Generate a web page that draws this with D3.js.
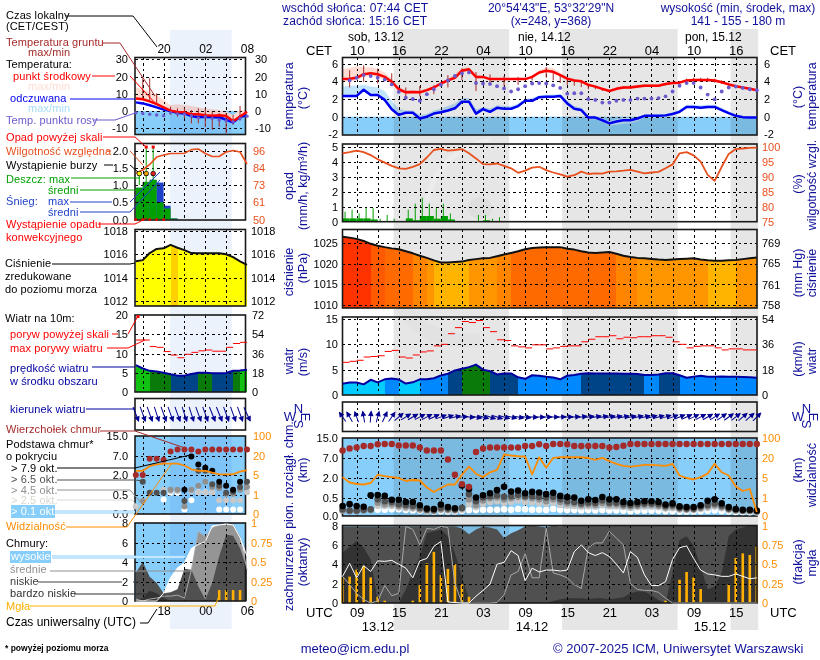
<!DOCTYPE html>
<html>
<head>
<meta charset="utf-8">
<script src="https://cdn.jsdelivr.net/npm/d3@7"></script>
<style>
    html, body { margin: 0; padding: 0; background: #fff; }
    svg { display: block; }
    text { font-family: "Liberation Sans", Arial, sans-serif; }
</style>
</head>
<body>
<svg id="chart" width="820" height="660"></svg>
<script>
// hour numbers count from 00 UTC on 13.12
// main forecast: hourly values from t=7 to t=66
const tempMid = [4.25, 4.3, 4.4, 4.8, 4.9, 4.8, 4.5, 3.95, 3.1, 2.75, 2.8, 2.75, 3.0, 3.3, 3.75, 4.1, 4.4, 5.2, 5.35, 4.5, 4.5, 4.25, 4.25, 4.25, 4.25, 4.25, 4.25, 4.5, 5.0, 5.2, 5.07, 4.7, 4.3, 4.1, 4.0, 3.6, 3.4, 3.15, 2.9, 3.15, 3.3, 3.3, 3.4, 3.5, 3.5, 3.5, 3.7, 3.8, 3.85, 4.1, 4.15, 4.15, 4.15, 4.1, 3.9, 3.65, 3.45, 3.3, 3.15, 3.0];
const tempMax = [5.4, 5.5, 5.7, 5.6, 5.6, 5.4, 5.0, 4.3, 3.4, 3.0, 3.0, 2.95, 3.2, 3.5, 3.9, 4.3, 4.8, 5.5, 5.6, 4.7, 4.6, 4.35, 4.35, 4.35, 4.35, 4.35, 4.35, 4.6, 5.2, 5.6, 5.5, 5.0, 4.5, 4.3, 4.15, 3.8, 3.55, 3.3, 3.05, 3.35, 3.5, 3.55, 3.6, 3.7, 3.7, 3.7, 3.85, 3.95, 4.0, 4.2, 4.3, 4.3, 4.3, 4.25, 4.05, 3.8, 3.6, 3.4, 3.25, 3.1];
const tempMin = [3.95, 4.0, 4.1, 4.5, 4.6, 4.5, 4.2, 3.7, 2.9, 2.6, 2.65, 2.6, 2.85, 3.15, 3.6, 3.95, 4.25, 5.0, 5.15, 4.35, 4.35, 4.15, 4.15, 4.15, 4.15, 4.15, 4.15, 4.35, 4.8, 5.0, 4.9, 4.5, 4.15, 3.95, 3.85, 3.45, 3.25, 3.0, 2.8, 3.0, 3.15, 3.15, 3.25, 3.35, 3.35, 3.35, 3.55, 3.65, 3.7, 3.95, 4.0, 4.0, 4.0, 3.95, 3.75, 3.5, 3.3, 3.15, 3.05, 2.9];
const feltMid = [2.33, 2.33, 2.35, 3.05, 2.45, 2.45, 1.9, 0.85, 0.2, 0.45, 0.45, -0.2, 0.0, 0.35, 0.5, 0.7, 0.95, 1.7, 1.7, 0.35, 0.85, 0.55, 1.0, 0.9, 0.9, 1.2, 1.8, 1.8, 2.2, 2.25, 2.25, 2.35, 1.5, 0.9, 0.75, -0.1, -0.1, -0.4, -0.75, -0.55, -0.4, -0.4, -0.2, 0.1, 0.1, 0.1, 0.15, 0.3, 0.55, 1.1, 1.1, 1.0, 1.1, 1.1, 0.75, 0.4, 0.1, -0.05, -0.1, -0.1];
const feltMax = [3.4, 3.5, 3.5, 3.6, 3.4, 3.3, 2.9, 1.8, 0.9, 0.7, 0.7, 0.2, 0.3, 0.7, 0.9, 1.2, 1.5, 2.1, 2.1, 0.8, 1.1, 0.9, 1.3, 1.2, 1.2, 1.5, 2.0, 2.1, 2.4, 2.5, 2.5, 2.55, 1.8, 1.2, 1.0, 0.1, 0.1, -0.15, -0.55, -0.3, -0.15, -0.15, 0.0, 0.2, 0.25, 0.25, 0.3, 0.5, 0.8, 1.35, 1.35, 1.3, 1.35, 1.35, 1.0, 0.6, 0.25, 0.1, 0.0, 0.0];
const feltMin = [2.2, 2.2, 2.2, 2.9, 2.3, 2.3, 1.75, 0.7, 0.1, 0.3, 0.3, -0.3, -0.15, 0.2, 0.35, 0.55, 0.8, 1.55, 1.55, 0.2, 0.65, 0.4, 0.85, 0.75, 0.75, 1.05, 1.65, 1.65, 2.05, 2.1, 2.1, 2.2, 1.35, 0.75, 0.6, -0.3, -0.3, -0.6, -1.0, -0.9, -0.8, -0.75, -0.5, -0.1, -0.15, -0.15, -0.05, 0.15, 0.4, 0.95, 0.95, 0.85, 0.95, 0.95, 0.6, 0.25, -0.05, -0.15, -0.2, -0.2];
const dewPoint = [null, 4.1, 4.4, 4.7, 4.6, 4.4, 4.2, 3.65, 2.8, 2.15, 2.0, 1.8, 2.55, 3.1, 3.6, 4.1, 4.6, 4.9, 5.0, 3.8, 3.75, 3.7, 3.45, 3.2, 2.85, 3.1, 3.45, 3.75, 3.8, 3.75, 3.55, 3.25, 2.6, 2.65, 2.65, 2.0, 1.9, 1.6, 1.6, 1.8, 1.9, 1.9, 2.05, 2.05, 2.05, 2.1, 2.3, 2.85, 3.5, 3.8, 3.8, 3.3, 2.5, 1.95, 2.85, 3.3, 3.4, 3.25, 3.1, 3.0];
const groundHours = [8, 10, 12, 14, 16, 18, 20, 22, 24, 26, 28, 30, 32, 34, 36, 37, 38, 39, 40, 41, 42, 43, 44, 45, 46, 47, 48, 49, 50, 51, 52, 53, 54, 55, 56, 57, 58, 59, 60, 61, 62, 63, 64, 65, 66];
const groundMax = [5.25, 5.8, 5.45, 4.9, 3.3, 3.45, 3.55, 4.7, 5.45, 5.05, 4.8, 4.6, 4.5, 4.6, 5.6, 5.1, 4.8, 4.4, 4.2, 4.05, 3.65, 3.45, 3.2, 3.0, 3.2, 3.4, 3.4, 3.5, 3.6, 3.6, 3.6, 3.8, 3.9, 4.0, 4.3, 4.4, 4.4, 4.4, 4.3, 4.1, 3.85, 3.6, 3.4, 3.25, 3.1];
const groundMin = [3.3, 3.95, 3.75, 3.55, 2.25, 2.3, 2.55, 3.3, 4.15, 2.9, 3.6, 3.5, 3.6, 4.1, 4.4, 4.1, 3.8, 3.6, 3.5, 3.35, 3.1, 3.1, 2.9, 2.75, 3.0, 3.15, 3.2, 3.3, 3.4, 3.4, 3.4, 3.55, 3.7, 3.75, 3.9, 3.95, 3.95, 3.95, 3.85, 3.7, 3.45, 3.25, 3.1, 3.0, 2.85];

const humidity = [97.8, 98.2, 98.7, 98.2, 97.2, 95.8, 94.7, 93.6, 92.8, 92.6, 93.3, 94.2, 96.4, 98.9, 99.3, 98.7, 98.9, 99.2, 97.8, 96.1, 94.2, 94.1, 94.4, 93.6, 92.8, 91.3, 92, 93, 93.3, 92.2, 91.4, 90.8, 90, 90.5, 91.7, 90.9, 91.1, 91, 91.7, 91.8, 92, 92.3, 91.7, 91.1, 91.4, 91.6, 92.8, 94.1, 97.8, 98.2, 97.1, 95, 90.6, 88.6, 93.3, 97.6, 99.2, 99.4, 99.6, 99.7];
// rain per hour from t=7, bars span one hour
const rainMean = [0.22, 0.22, 0.22, 0.22, 0.15, 0, 0, 0, 0, 0.22, 0.1, 0.38, 0.38, 0.2, 0.38, 0.15, 0, 0, 0, 0, 0.1, 0, 0, 0];
const rainMax = [0.67, 0.8, 0.55, 0.95, 0.9, 0.2, 0.45, 0.2, 0, 0.8, 1.2, 1.6, 1.2, 0.9, 1.2, 0.55, 0, 0, 0, 0.45, 0.45, 0.2, 0.3, 0];

const pressure = [1026.5, 1026.3, 1026, 1025.5, 1024.8, 1024.35, 1024, 1023.7, 1023.5, 1023, 1022.5, 1021.9, 1021.4, 1020.8, 1020.3, 1020.3, 1020.4, 1020.5, 1020.9, 1021.1, 1021.3, 1021.4, 1021.8, 1022.2, 1022.6, 1023, 1023.5, 1023.8, 1023.9, 1024, 1024, 1024, 1023.6, 1023.4, 1023, 1022.7, 1022.6, 1022.7, 1022.8, 1022.4, 1021.9, 1021.6, 1021.4, 1021.3, 1021.15, 1021, 1020.9, 1021, 1021.1, 1021.2, 1021.3, 1021, 1020.8, 1020.7, 1020.7, 1020.8, 1020.9, 1021.1, 1021.3, 1021.5];

const windSpeed = [2.2, 2.45, 2.45, 2.1, 3.0, 2.5, 3.1, 3.25, 3.05, 2.25, 2.5, 3.1, 3.1, 3.3, 3.85, 4.2, 4.85, 5.2, 5.5, 6.0, 5.0, 4.7, 4.05, 4.25, 4.25, 3.5, 3.2, 3.9, 3.8, 3.6, 3.45, 3.1, 3.8, 3.95, 4.2, 4.3, 4.25, 4.25, 4.25, 4.25, 4.2, 4.2, 4.15, 3.95, 3.95, 4.05, 4.3, 4.3, 3.9, 3.4, 3.6, 3.8, 3.6, 3.6, 3.65, 3.6, 3.6, 3.55, 3.5, 3.4];
const windGust = [6.45, 6.65, 6.85, 7.5, 7.6, 7.75, 8.6, 8.8, 7.5, 7.3, 7.9, 8.5, 8.7, 9.7, 10, 12.1, 13.3, 14.5, 14.3, 14.7, 13.3, 12.5, 10.9, 10.75, 9.7, 9.5, 9.3, 9.9, 9.9, 9.1, 9.3, 9.6, 9.7, 9.7, 10.5, 11, 11.5, 11.5, 11.7, 11.1, 11.4, 11.3, 11.5, 11.5, 11.7, 11.7, 11.4, 10.5, 10, 9.3, 9.6, 9.7, 9.7, 9.3, 8.9, 9.1, 9.1, 8.9, 8.9];
const windDir = [-35, -30, -20, -10, 5, 15, 25, 35, 50, 58, 60, 62, 62, 65, 70, 72, 78, 85, 95, 100, 105, 108, 108, 105, 103, 100, 98, 95, 92, 90, 90, 88, 88, 85, 82, 82, 80, 80, 80, 78, 78, 78, 76, 76, 75, 75, 73, 70, 68, 66, 64, 62, 60, 58, 56, 54, 52, 50, 48, 45];

const cloudTop = [10, 10.8, 11.2, 11.8, 11.8, 12.5, 12.6, 12.6, 12, 12, 12, 11.2, 10, 10, 10, 6.6, 2.7, 1.5, 1.3, 9.4, 10.8, 11.2, 11.2, 11.2, 11.2, 11.2, 11.8, 11.8, 12.5, 11.8, 12.6, 12.6, 12.5, 11.8, 11.8, 11.8, 11.8, 11.8, 11.2, 11.4, 11.9, 12.6, 12.6, 12.6, 12.6, 12.6, 12.6, 12.6, 12.6, 12.6, 12.6, 12.6, 12.6, 12.6, 12.6, 12.6, 12.6, 12.6, 12.6, 12.6];
const base79 = [0.27, 0.32, 0.27, 0.25, 0.67, 0.68, 0.62, 0.44, 0.44, 0.38, 0.38, 0.29, 0.2, 0.19, 0.31, 0.24, 0.21, 1.4, 1.13, 0.5, 0.67, 0.82, 1.05, 1.3, 0.95, 1.03, 0.82, 0.92, 0.87, 0.75, 0.85, 0.62, 0.53, 0.5, 0.41, 0.45, 0.43, 0.53, 0.45, 0.45, 0.38, 0.35, 0.38, 0.4, 0.4, 0.38, 0.31, 0.34, 0.26, 0.24, 0.24, 0.29, 0.41, 0.45, 0.34, 0.24, 0.19, 0.17, 0.17, 0.15];
const base65 = [0.18, 0.15, 0.15, 0.17, 0.18, 0.45, 0.4, 0.38, 0.32, 0.3, 0.28, 0.22, 0.17, 0.16, 0.22, 0.2, 0.18, 0.22, 0.75, 0.4, 0.5, 0.6, 0.65, 0.55, 0.6, 0.7, 0.6, 0.6, 0.55, 0.5, 0.55, 0.45, 0.4, 0.38, 0.34, 0.36, 0.35, 0.42, 0.36, 0.36, 0.32, 0.3, 0.32, 0.34, 0.34, 0.32, 0.27, 0.29, 0.22, 0.2, 0.2, 0.25, 0.3, 0.34, 0.28, 0.2, 0.17, 0.15, 0.15, 0.13];
const base45 = [0.14, 0.13, 0.13, 0.15, 0.16, 0.36, 0.32, 0.32, 0.27, 0.25, 0.23, 0.18, 0.15, 0.14, 0.18, 0.17, 0.16, 0.2, 0.45, 0.3, 0.42, 0.48, 0.5, 0.45, 0.48, 0.55, 0.5, 0.48, 0.45, 0.4, 0.45, 0.38, 0.34, 0.33, 0.3, 0.31, 0.3, 0.35, 0.31, 0.31, 0.28, 0.26, 0.28, 0.3, 0.3, 0.28, 0.23, 0.25, 0.2, 0.18, 0.18, 0.22, 0.26, 0.29, 0.24, 0.18, 0.15, 0.14, 0.14, 0.12];
const base25 = [null, null, null, null, null, 0.28, 0.27, 0.27, 0.23, 0.21, 0.2, 0.16, 0.13, 0.13, 0.16, 0.15, 0.14, 0.17, 0.32, 0.24, 0.33, 0.38, 0.4, 0.36, 0.38, 0.42, 0.38, 0.37, 0.35, 0.33, 0.36, 0.3, 0.28, 0.27, 0.25, 0.26, 0.25, 0.29, 0.26, 0.26, 0.24, 0.22, 0.24, 0.25, 0.25, 0.24, 0.2, 0.21, 0.17, 0.16, 0.16, 0.19, 0.22, 0.25, 0.21, 0.16, 0.14, 0.13, 0.12, 0.11];
const base01 = [null, null, null, null, null, 0.17, 0.17, 0.18, 0.18, 0.16, 0.15, 0.14, 0.13, 0.12, 0.13, 0.12, 0.12, 0.14, 0.16, 0.16, 0.17, 0.17, 0.17, 0.18, 0.17, 0.19, 0.18, 0.17, 0.17, 0.16, 0.19, 0.17, 0.16, 0.16, 0.15, 0.16, 0.15, 0.16, 0.15, 0.15, 0.14, 0.13, 0.14, 0.14, 0.14, 0.14, 0.13, 0.13, 0.12, 0.12, 0.12, 0.13, 0.14, 0.15, 0.13, 0.12, 0.11, 0.11, 0.1, 0.1];
const visibility = [5.3, 4, 3.7, 3.6, 3.9, 7.1, 6, 5.3, 4.9, 4.3, 4.5, 4.4, 3, 2.1, 2.9, 3.6, 3.6, 7.1, 13.4, 7.9, 5.3, 9, 10.9, 34, 30, 27, 26, 7.3, 23, 12.5, 20.8, 23, 23, 23, 23, 20, 18.5, 20.5, 17.6, 15.5, 14, 13.4, 14, 14.7, 14.7, 14.4, 14, 15.5, 6.5, 4.9, 4.6, 5.3, 8, 15.5, 9, 6.5, 3.2, 2.3, 2.7, 0.22];

const cloudLow = [7.9, 7.9, 7.9, 7.9, 7.9, 7.9, 7.9, 7.9, 7.9, 7.9, 7.9, 7.9, 7.9, 7.9, 7.9, 7.9, 7.9, 7.7, 7.1, 7.6, 7.9, 7.8, 7.6, 6.7, 7.2, 7.5, 7.9, 8, 7.9, 7.8, 8, 7.9, 8, 8, 8, 8, 8, 8, 8, 8, 8, 8, 8, 8, 8, 8, 8, 8, 8, 8, 8, 8, 8, 8, 8, 8, 8, 8, 8, 8];
const cloudVeryLow = [5.2, 5.8, 6.4, 5.7, 4.5, 0.2, 0, 0, 0, 1.4, 3.1, 4.8, 7.2, 7.4, 7.6, 6.9, 5.2, 2.7, 0.3, 0, 0, 0, 0, 0, 0, 0, 0, 0, 0, 0, 0.2, 0.4, 0.5, 0.5, 0.5, 0.4, 0.5, 0.5, 0.4, 0.5, 0.6, 1.0, 1.2, 1.2, 0.8, 0.3, 0, 3.1, 6.5, 6.9, 5.9, 3.8, 1.4, 1.7, 3.1, 6.9, 7.6, 7.8, 8, 8];
const cloudMid = [2.75, 1.9, 1.0, 0.35, 0, 0.2, 1.8, 0.75, 1.0, 7.9, 7.6, 6.0, 7.7, 7.6, 7.9, 7.8, 2.0, 0, 0, 0, 0, 0, 0.05, 0.85, 2.9, 3.25, 5.1, 2.6, 2.6, 7.7, 3.1, 2.9, 2.6, 1.9, 1.5, 5.7, 6.2, 6.2, 7.4, 6.7, 6.0, 2.0, 1.4, 1.3, 1.3, 1.1, 0.5, 0, 0, 0, 0, 0, 0, 0, 0, 0, 0, 0, 0, 0];
const cloudHigh = [2.75, 4.1, 2.6, 3.85, 3.25, 4.35, 4.3, 4.4, 4.0, 3.6, 2.6, 4.35, 4.6, 5.85, 6.35, 0.1, 0.05, 0, 0, 0.7, 1.3, 1.95, 4.0, 4.2, 5.4, 4.9, 2.3, 3.6, 3.2, 3.4, 3.4, 3.3, 3.4, 5.3, 6.0, 5.2, 4.9, 5.2, 4.8, 4.0, 3.1, 5.3, 4.7, 2.9, 1.8, 1.8, 2.2, 4.5, 5.7, 5.9, 4.6, 3.4, 3.0, 2.9, 2.75, 2.75, 3.0, 2.75, 2.5, 2.6];
const fog = [0.33, 0.34, 0.43, 0.48, 0.33, 0.08, 0.03, 0, 0, 0, 0.03, 0.23, 0.51, 0.66, 0.36, 0.44, 0.5, 0.24, 0.08, 0, 0, 0, 0, 0, 0, 0, 0, 0, 0, 0, 0, 0, 0, 0, 0, 0, 0, 0, 0, 0, 0, 0, 0, 0, 0, 0, 0.03, 0, 0.3, 0.4, 0.33, 0.18, 0, 0, 0, 0.24, 0.58, 0.64, 0.62, 0.73];

// short panel on the left: hourly values from t=14 to t=30
const miniTemp = [7.2, 6.8, 5.6, 4, 2.1, 0.2, -0.6, -0.8, -1.9, -1.9, -2.5, -2.7, -2.5, -2.9, -6, -3.3, -0.4];
const miniTempMax = [13.7, 12.6, 11.2, 9.3, 6.4, 3.5, 3.9, 3.5, 2.9, 2.1, 1.5, 1, 0.6, -0.4, -2.3, 0.6, 0.6];
const miniFelt = [5, 4.4, 3.3, 2.1, 0.8, 0, -1, -1.4, -2.9, -3.7, -3.3, -3.7, -3.5, -5.2, -6.6, -3.3, -2.7];
const miniDew = [-1, -1.4, -1.9, -2.3, -2.7, -1, -1.7, -1.7, -2.7, -4, -3.3, -4.3, -5.2, -5.6, -6.2, -4.3, -3];
const miniGroundHours = [15, 16, 17, 19, 20, 21, 22, 23, 24, 25, 26, 27, 28, 29];
const miniGroundMax = [18.9, 19, 10.2, 2.5, 1.5, 1.5, 0.6, 1.5, 1.5, -0.4, -1.3, -1.3, -2.3, 2.9];
const miniGroundMin = [6.4, 6, 3.5, -2.3, -3.3, -4.3, -7.2, -7.2, -9.3, -11, -9.3, -13, -8.1, -5.6];
const miniHumidity = [81, 83, 86.7, 91.6, 93, 94, 94, 94.2, 96.6, 97, 94, 92, 92, 95, 96, 95, 87];
const miniRain = [0.92, 1.09, 1.15, 0.5, 0.32, 0.03];
const miniSnow = [0.92, 1.09, 1.15, 1.07, 0.4, 0.03];
const miniRainStems = [1.33, 2.1, 2.1];
const miniStormColors = ['#ffee00', '#f0a000', '#e02020'];
const miniPressure = [1015.4, 1015.5, 1016.1, 1016.45, 1016.5, 1016.8, 1016.55, 1016.35, 1016.1, 1016.08, 1016.08, 1016.08, 1016.08, 1016, 1015.75, 1015.4, 1015.1];
const miniWind = [7, 6.1, 5.5, 5.3, 5, 4.6, 4.25, 4.25, 4.7, 5, 5, 4.9, 4.9, 4.95, 5.5, 5.6, 5.8];
const miniGust = [13.5, 13.5, 11.8, 11.6, 10.5, 9.6, 8.9, 9.8, 10.3, 10.7, 10.9, 10.6, 10.6, 11.6, 12.6, 12.9];
const miniDir = [158, 160, 160, 162, 160, 160, 160, 162, 162, 160, 160, 158, 158, 160, 160, 160, 155];
const miniTop = [2, 2, 6.3, 6.3, 6, 8.8, 9.6, 9.6, 9.6, 8.8, 9.6, 9.6, 9.6, 9.6, 9.6, 9.6, 9.6];
const miniBase79 = [null, null, null, null, null, null, null, 0.89, 6.85, 4.75, 3.9, 3.1, 1.5, 1.2, 0.9, 1.5, null];
const miniBase65 = [null, 1.5, 0.67, 0.67, 0.67, null, null, 0.34, null, 3.1, 3.1, 1.3, 1.2, 0.67, 0.75, 1.1, 1.5];
const miniBase45 = [null, 0.34, null, null, null, 0.9, 0.9, 0.2, 0.9, 1.2, 1.5, 1.1, 1.0, 0.6, 0.6, 0.9, 1.1];
const miniBase25 = [0.2, null, null, null, 0.9, 0.8, 0.8, null, 0.8, 0.7, 0.7, 0.7, 0.36, 0.36, 0.36, 0.36, 0.7];
const miniBase01 = [null, 0.34, null, null, 0.38, 0.67, 0.67, 0.12, 0.36, 0.7, 0.7, 0.7, 0.12, 0.12, 0.12, 0.12, null];
const miniVis = [8.3, 8.3, 12, 13.4, 14, 14, 14, 12.5, 9.5, 8.3, 8.3, 6.8, 5.5, 5.5, 5.6, 7.6, 8.9];
const miniLow = [2.9, 4, 2.5, 1.85, 0.8, 0.9, 1.2, 3.3, 3.2, 1.5, 0.15, 1.85, 4.6, 6.8, 6.7, 5.4, 3.2];
const miniVeryLow = [0.1, 0.3, 1.05, 0.8, 0.3, 0, 0, 0, 0, 0, 0, 0, 0, 0, 0, 0, 0];
const miniMid = [0.2, 0, 0.2, 0.3, 0.5, 0.5, 0.6, 0.3, 3.2, 7.1, 6.6, 7.5, 7.8, 7.8, 7.8, 6.6, 3.2];
const miniHigh = [0, 0, 0, 0, 0.8, 2.4, 3.4, 3.9, 5.4, 5.8, 6.1, 7.7, 7.8, 7.9, 7.8, 6.5, 4.6];
const miniFogHours = [26, 27, 28, 29];
const miniFog = [0.14, 0.14, 0.14, 0.14];

const nightSpans = [[14.27, 30.73], [38.27, 54.73], [62.27, 66.2]];
const cetLabels = ['10', '16', '22', '04', '10', '16', '22', '04', '10', '16'];
const utcLabels = ['09', '15', '21', '03', '09', '15', '21', '03', '09', '15'];
const sixHourTicks = [9, 15, 21, 27, 33, 39, 45, 51, 57, 63];
const threeHourTicks = [9, 12, 15, 18, 21, 24, 27, 30, 33, 36, 39, 42, 45, 48, 51, 54, 57, 60, 63];
const miniTicks = [15, 18, 21, 24, 27];
const okta = [0, 2, 4, 6, 8];

const NAVY = '#10109a';
const ORANGE = '#ff8c00';
const ICE = '#87cefa';
const HUMID = '#e8501e';
const GAP = '#000090';
const LABEL = 11;

const hoursMain = d3.range(7, 67);
const hoursMini = d3.range(14, 31);
const svg = d3.select('#chart');
const layers = {};
['fill', 'band', 'solid', 'grid', 'marks', 'text'].forEach((k) => {
    layers[k] = svg.append('g').attr('class', k);
});
layers.band.style('mix-blend-mode', 'multiply');

const xMain = d3.scaleLinear().domain([7, 66]).range([342.6, 756.8]);
const xMini = d3.scaleLinear().domain([14, 30]).range([135.8, 247]);
const L = { x0: 342.5, x1: 757 };
const M = { x0: 135, x1: 245.5 };

function text(str, x, y, color, opt = {}) {
    return layers.text
        .append('text')
        .attr('x', x)
        .attr('y', y)
        .attr('dy', '.35em')
        .attr('fill', color)
        .attr('font-size', opt.size || 12)
        .attr('font-weight', opt.weight || null)
        .attr('letter-spacing', opt.spacing || null)
        .attr('text-anchor', opt.anchor || 'start')
        .text(str);
}

function rotated(str, x, y, color, size = 12.5) {
    layers.text
        .append('text')
        .attr('transform', `translate(${x},${y}) rotate(-90)`)
        .attr('dy', '.35em')
        .attr('text-anchor', 'middle')
        .attr('fill', color)
        .attr('font-size', size)
        .text(str);
}

function leftAxis(scale, x, values, fmt = String) {
    const g = layers.text
        .append('g')
        .attr('transform', `translate(${x},0)`)
        .call(d3.axisLeft(scale).tickValues(values).tickSize(0).tickPadding(0).tickFormat(fmt));
    g.select('.domain').remove();
    g.selectAll('text').attr('font-size', LABEL).attr('fill', '#000').attr('font-family', null);
}

function rightAxis(scale, x, values, color = '#000') {
    const g = layers.text
        .append('g')
        .attr('transform', `translate(${x},0)`)
        .call(d3.axisRight(scale).tickValues(values).tickSize(0).tickPadding(0).tickFormat(String));
    g.select('.domain').remove();
    g.selectAll('text').attr('font-size', LABEL).attr('fill', color).attr('font-family', null);
}

function timeAxis(scale, y, values, labels, size = 13) {
    const g = layers.text
        .append('g')
        .attr('transform', `translate(0,${y})`)
        .call(d3.axisTop(scale).tickValues(values).tickSize(0).tickPadding(0).tickFormat((d, i) => labels[i]));
    g.select('.domain').remove();
    g.selectAll('text').attr('font-size', size).attr('fill', '#000').attr('font-family', null);
}

// dashed grid and the frame of a panel
function grid(xs, xTicks, ys, yTicks, box) {
    const g = layers.grid.append('g').attr('fill', 'none').attr('stroke', '#000');
    g.selectAll('line.v')
        .data(xTicks)
        .join('line')
        .attr('class', 'v')
        .attr('x1', (d) => Math.round(xs(d)) + 0.5)
        .attr('x2', (d) => Math.round(xs(d)) + 0.5)
        .attr('y1', box.y0)
        .attr('y2', box.y1);
    g.selectAll('line.h')
        .data(yTicks)
        .join('line')
        .attr('class', 'h')
        .attr('x1', box.x0)
        .attr('x2', box.x1)
        .attr('y1', (d) => Math.round(ys(d)) + 0.5)
        .attr('y2', (d) => Math.round(ys(d)) + 0.5);
    g.selectAll('line').attr('stroke-dasharray', '2.5,3').attr('shape-rendering', 'crispEdges');
    g.append('rect')
        .attr('x', box.x0)
        .attr('y', box.y0)
        .attr('width', box.x1 - box.x0)
        .attr('height', box.y1 - box.y0)
        .attr('stroke', '#1a1a1a')
        .attr('stroke-width', 1.6);
}

function backdrop(box, y0, color) {
    layers.fill
        .append('rect')
        .attr('x', box.x0)
        .attr('y', y0)
        .attr('width', box.x1 - box.x0)
        .attr('height', box.y1 - y0)
        .attr('fill', color);
}

function line(xs, ys, hours, values, color, width) {
    const path = d3
        .line()
        .defined((d) => d !== null)
        .x((d, i) => xs(hours[i]))
        .y((d) => ys(d));
    layers.marks
        .append('path')
        .attr('d', path(values))
        .attr('fill', 'none')
        .attr('stroke', color)
        .attr('stroke-width', width)
        .attr('stroke-linejoin', 'round');
}

function band(xs, ys, hours, hi, lo, color, layer = layers.fill) {
    const area = d3
        .area()
        .x((d) => xs(hours[d]))
        .y0((d) => ys(lo[d]))
        .y1((d) => ys(hi[d]));
    layer
        .append('path')
        .attr('d', area(d3.range(hours.length)))
        .attr('fill', color);
}

// one filled column per hour under a line
function columns(xs, ys, hours, values, baseline, color) {
    const area = d3
        .area()
        .x((d) => xs(d.t))
        .y0(ys(baseline))
        .y1((d) => ys(d.v));
    d3.range(hours.length - 1).forEach((i) => {
        layers.solid
            .append('path')
            .attr('d', area([{ t: hours[i], v: values[i] }, { t: hours[i + 1], v: values[i + 1] }]))
            .attr('fill', color(values[i]))
            .attr('shape-rendering', 'crispEdges');
    });
}

function steps(xs, ys, hours, values, color, width) {
    layers.marks
        .append('g')
        .selectAll('line')
        .data(values)
        .join('line')
        .attr('x1', (d, i) => xs(hours[i]))
        .attr('x2', (d, i) => xs(hours[i] + 1))
        .attr('y1', (d) => ys(d))
        .attr('y2', (d) => ys(d))
        .attr('stroke', color)
        .attr('stroke-width', width);
}

function dots(xs, ys, hours, values, color, r) {
    layers.marks
        .append('g')
        .selectAll('circle')
        .data(hours.map((t, i) => ({ t, v: values[i] })).filter((d) => d.v !== null))
        .join('circle')
        .attr('cx', (d) => xs(d.t))
        .attr('cy', (d) => ys(d.v))
        .attr('r', r)
        .attr('fill', color);
}

function whiskers(xs, ys, hours, hi, lo, color) {
    layers.marks
        .append('g')
        .selectAll('line')
        .data(hours)
        .join('line')
        .attr('x1', (d) => xs(d))
        .attr('x2', (d) => xs(d))
        .attr('y1', (d, i) => ys(hi[i]))
        .attr('y2', (d, i) => ys(lo[i]))
        .attr('stroke', color)
        .attr('stroke-width', 1);
}

function arrows(xs, hours, dirs, midY, len) {
    const g = layers.marks
        .append('g')
        .selectAll('g')
        .data(dirs)
        .join('g')
        .attr('transform', (d, i) => `translate(${xs(hours[i])},${midY}) rotate(${d})`);
    g.append('line')
        .attr('y1', len)
        .attr('y2', -len)
        .attr('stroke', GAP)
        .attr('stroke-width', 1);
    g.append('path')
        .attr('d', `M0,${-len - 1}L2.8,${-len + 4.5}L-2.8,${-len + 4.5}Z`)
        .attr('fill', GAP);
}

function bars(xs, ys, hours, values, color, width) {
    layers.solid
        .append('g')
        .selectAll('rect')
        .data(hours.map((t, i) => ({ t, v: values[i] })).filter((d) => d.v > 0))
        .join('rect')
        .attr('x', (d) => xs(d.t) - width / 2)
        .attr('width', width)
        .attr('y', (d) => ys(d.v))
        .attr('height', (d) => ys(0) - ys(d.v))
        .attr('fill', color);
}

function pressureColor() {
    return d3
        .scaleThreshold()
        .domain([1016.7, 1017, 1020.85, 1021.6, 1022.55, 1024.05, 1025.2])
        .range(['#ffff00', '#ffd000', '#ffb400', '#ff9600', '#ff8400', '#ff6a00', '#ff5a00', '#ff3300']);
}

function windColor(brightFrom) {
    return d3
        .scaleThreshold()
        .domain([3.08, 4, 5, brightFrom])
        .range(['#00ccff', '#0088ff', '#004488', '#0a7b0a', '#11c111']);
}

function drawTemps(xs, box, hours, d) {
    const yTemp = d3.scaleLinear().domain(d.domain).range(d.range);
    const tempBox = { x0: box.x0, x1: box.x1, y0: d.box[0], y1: d.box[1] };
    backdrop(tempBox, yTemp(0), ICE);
    band(xs, yTemp, hours, d.tempMax, d.tempMin, '#ffdcd2');
    band(xs, yTemp, hours, d.feltMax, d.feltMin, '#bfe4fb');
    grid(xs, d.gridTicks, yTemp, d.tempTicks, tempBox);
    whiskers(xs, yTemp, d.groundHours, d.groundMax, d.groundMin, '#a52a2a');
    line(xs, yTemp, hours, d.felt, '#0000f0', 2.5);
    line(xs, yTemp, hours, d.temp, '#ff0000', 2.5);
    dots(xs, yTemp, hours, d.dew, '#6a5acd', d.dewR);
    return yTemp;
}

// -------- main panels --------
const yMainTemp = drawTemps(xMain, L, hoursMain, {
    domain: [-2, 6], range: [134.4, 63.6], box: [57.5, 135],
    tempMax, tempMin, feltMax, feltMin,
    gridTicks: threeHourTicks, tempTicks: [0, 2, 4, 6],
    groundHours, groundMax, groundMin, felt: feltMid, temp: tempMid, dew: dewPoint, dewR: 1.9
});
leftAxis(yMainTemp, 338, [-2, 0, 2, 4, 6]);
rightAxis(yMainTemp, 764, [-2, 0, 2, 4, 6]);

const boxRain = { x0: L.x0, x1: L.x1, y0: 144, y1: 221.7 };
const yRain = d3.scaleLinear().domain([0, 5]).range([221.7, 146.7]);
const yHum = d3.scaleLinear().domain([75, 100]).range([221.7, 146.7]);
const hoursRain = d3.range(7, 7 + rainMean.length);
layers.solid
    .append('g')
    .selectAll('rect')
    .data(rainMean)
    .join('rect')
    .attr('x', (d, i) => xMain(hoursRain[i]))
    .attr('width', xMain(8) - xMain(7))
    .attr('y', (d) => yRain(d))
    .attr('height', (d) => yRain(0) - yRain(d))
    .attr('fill', '#00a000');
layers.solid
    .append('g')
    .selectAll('line')
    .data(rainMax)
    .join('line')
    .attr('x1', (d, i) => xMain(hoursRain[i] + 0.35))
    .attr('x2', (d, i) => xMain(hoursRain[i] + 0.35))
    .attr('y1', (d) => yRain(d))
    .attr('y2', yRain(0))
    .attr('stroke', '#00a000');
grid(xMain, threeHourTicks, yRain, [1, 2, 3, 4, 5], boxRain);
line(xMain, yHum, hoursMain, humidity, HUMID, 1.8);
leftAxis(yRain, 338, [0, 1, 2, 3, 4, 5]);
rightAxis(yHum, 762, [75, 80, 85, 90, 95, 100], HUMID);

const boxPress = { x0: L.x0, x1: L.x1, y0: 229.5, y1: 308 };
const yPress = d3.scaleLinear().domain([1010, 1025]).range([305, 243]);
const yHg = d3.scaleOrdinal().domain([758, 761, 765, 769]).range([305, 285, 263, 243]);
columns(xMain, yPress, hoursMain, pressure, 1009.25, pressureColor());
grid(xMain, threeHourTicks, yPress, [1010, 1015, 1020, 1025], boxPress);
line(xMain, yPress, hoursMain, pressure, '#111', 2);
leftAxis(yPress, 338, [1010, 1015, 1020, 1025]);
rightAxis(yHg, 762, [758, 761, 765, 769]);

const boxWind = { x0: L.x0, x1: L.x1, y0: 317, y1: 395 };
const yWind = d3.scaleLinear().domain([0, 15]).range([395, 319]);
const yKmh = d3.scaleLinear().domain([0, 54]).range([395, 319]);
columns(xMain, yWind, hoursMain, windSpeed, 0, windColor(7));
grid(xMain, threeHourTicks, yWind, [5, 10, 15], boxWind);
steps(xMain, yWind, hoursMain.slice(0, -1), windGust, '#ff0000', 1);
line(xMain, yWind, hoursMain, windSpeed, '#0000a0', 2);
leftAxis(yWind, 338, [0, 5, 10, 15]);
rightAxis(yKmh, 762, [0, 18, 36, 54]);

const boxDir = { x0: L.x0, x1: L.x1, y0: 402, y1: 431.5 };
grid(xMain, threeHourTicks, d3.scaleLinear(), [], boxDir);
arrows(xMain, hoursMain, windDir, 417, 5.5);

const cloudIdx = [0, 0.5, 2, 7, 15];
const visIdx = [0, 1, 5, 20, 100];
const boxBase = { x0: L.x0, x1: L.x1, y0: 438, y1: 516 };
const yBase = d3.scaleLinear().domain(cloudIdx).range([516, 497.5, 477.5, 458, 438]);
const yVis = d3.scaleLinear().domain(visIdx).range([516, 497.5, 477.5, 458, 438]);
backdrop(boxBase, 438, ICE);
grid(xMain, threeHourTicks, yBase, [0.5, 2, 7], boxBase);
[[base01, '#ffffff'], [base25, '#c8c8c8'], [base45, '#909090'], [base65, '#505050'], [base79, '#000000']].forEach(([v, c]) => {
    dots(xMain, yBase, hoursMain, v, c, 3.3);
});
dots(xMain, yBase, hoursMain, cloudTop, '#a52a2a', 3.2);
line(xMain, yVis, hoursMain, visibility, ORANGE, 1.8);
leftAxis(yBase, 338, cloudIdx, d3.format('.1f'));
rightAxis(yVis, 762, visIdx, ORANGE);

const boxSky = { x0: L.x0, x1: L.x1, y0: 525.5, y1: 603 };
const ySky = d3.scaleLinear().domain([0, 8]).range([603, 525.5]);
const yFog = d3.scaleLinear().domain([0, 1]).range([603, 525.5]);
backdrop(boxSky, 525.5, ICE);
const zero = hoursMain.map(() => 0);
band(xMain, ySky, hoursMain, cloudHigh, zero, '#ffffff', layers.solid);
band(xMain, ySky, hoursMain, cloudMid, zero, '#959595', layers.solid);
band(xMain, ySky, hoursMain, cloudLow, zero, '#505050', layers.solid);
band(xMain, ySky, hoursMain, cloudVeryLow, zero, '#333333', layers.solid);
bars(xMain, yFog, hoursMain, fog, '#ffb000', 2.6);
grid(xMain, threeHourTicks, ySky, [2, 4, 6], boxSky);
line(xMain, ySky, hoursMain, cloudMid, '#a8a8a8', 1);
line(xMain, ySky, hoursMain, cloudHigh, '#ffffff', 1);
leftAxis(ySky, 338, okta);
rightAxis(yFog, 762, [0, 0.25, 0.5, 0.75, 1], ORANGE);

// night bands in the main part, pale day band in the short one
nightSpans.forEach(([a, b]) => {
    layers.band
        .append('rect')
        .attr('x', xMain(a))
        .attr('width', xMain(b) - xMain(a))
        .attr('y', 29)
        .attr('height', 601)
        .attr('fill', '#e6e6e6');
});
layers.band
    .append('rect')
    .attr('x', 170)
    .attr('width', 61.7)
    .attr('y', 30)
    .attr('height', 599)
    .attr('fill', '#ecf2fc');
// faint logo behind the night band
layers.band
    .append('path')
    .attr('d', 'M395,290 Q415,345 480,340')
    .attr('fill', 'none')
    .attr('stroke', '#e2e2e2')
    .attr('stroke-width', 14);
layers.band
    .append('path')
    .attr('d', 'M427,200 Q440,150 490,140')
    .attr('fill', 'none')
    .attr('stroke', '#ececec')
    .attr('stroke-width', 5);
layers.band
    .append('ellipse')
    .attr('cx', 480)
    .attr('cy', 208)
    .attr('rx', 12)
    .attr('ry', 11)
    .attr('fill', '#dedede');

// -------- short panels --------
const yMiniTemp = drawTemps(xMini, M, hoursMini, {
    domain: [-10, 30], range: [128.2, 59.3], box: [57.5, 134.5],
    tempMax: miniTempMax, tempMin: miniTemp, feltMax: miniFelt, feltMin: miniFelt,
    gridTicks: miniTicks, tempTicks: [-10, 0, 10, 20, 30],
    groundHours: miniGroundHours, groundMax: miniGroundMax, groundMin: miniGroundMin,
    felt: miniFelt, temp: miniTemp, dew: miniDew, dewR: 1.7
});
leftAxis(yMiniTemp, 128, [-10, 0, 10, 20, 30]);
rightAxis(yMiniTemp, 255, [-10, 0, 10, 20, 30]);

const boxMiniRain = { x0: M.x0, x1: M.x1, y0: 143.5, y1: 220 };
const yMiniRain = d3.scaleLinear().domain([0, 2]).range([219.5, 150.5]);
const yMiniHum = d3.scaleLinear().domain([50, 96]).range([219.5, 150.5]);
const miniHalf = miniSnow.map((_, i) => 14 + i);
[[miniSnow, '#2040c8'], [miniRain, '#00a000']].forEach(([vals, color]) => {
    layers.solid
        .append('g')
        .selectAll('rect')
        .data(vals)
        .join('rect')
        .attr('x', (d, i) => xMini(miniHalf[i]))
        .attr('width', xMini(15) - xMini(14))
        .attr('y', (d) => yMiniRain(d))
        .attr('height', (d) => yMiniRain(0) - yMiniRain(d))
        .attr('fill', color);
});
grid(xMini, miniTicks, yMiniRain, [0.5, 1, 1.5, 2], boxMiniRain);
layers.marks
    .append('g')
    .selectAll('line')
    .data(miniRainStems)
    .join('line')
    .attr('x1', (d, i) => xMini(14.5 + i))
    .attr('x2', (d, i) => xMini(14.5 + i))
    .attr('y1', (d) => yMiniRain(d))
    .attr('y2', yMiniRain(1))
    .attr('stroke', '#00a000');
line(xMini, yMiniHum, hoursMini, miniHumidity, HUMID, 1.6);
dots(xMini, yMiniRain, [14.5, 15.5, 16.5], [1.33, 1.33, 1.33], '#000', 2.6);
layers.marks
    .append('g')
    .selectAll('circle')
    .data(miniStormColors)
    .join('circle')
    .attr('cx', (d, i) => xMini(14.5 + i))
    .attr('cy', yMiniRain(1.33))
    .attr('r', 2)
    .attr('fill', (d) => d);
layers.marks
    .append('g')
    .selectAll('rect')
    .data([15.5, 16.5])
    .join('rect')
    .attr('x', (d) => xMini(d) - 1.5)
    .attr('y', yMiniRain(2.1) - 1.5)
    .attr('width', 3)
    .attr('height', 3)
    .attr('fill', '#f00000');
dots(xMini, yMiniRain, [14, 15, 16, 17, 18], [0, 0, 0, 0, 0], '#e00000', 1.5);
leftAxis(yMiniRain, 128, [0, 0.5, 1, 1.5, 2], d3.format('.1f'));
rightAxis(d3.scaleOrdinal().domain([50, 61, 73, 84, 96]).range([219.5, 202.3, 185, 167.8, 150.5]), 253, [50, 61, 73, 84, 96], HUMID);

const boxMiniPress = { x0: M.x0, x1: M.x1, y0: 229.5, y1: 306 };
const yMiniPress = d3.scaleLinear().domain([1012, 1018]).range([301.3, 230.7]);
columns(xMini, yMiniPress, hoursMini, miniPressure, 1011.6, pressureColor());
grid(xMini, miniTicks, yMiniPress, [1012, 1014, 1016, 1018], boxMiniPress);
line(xMini, yMiniPress, hoursMini, miniPressure, '#111', 2);
leftAxis(yMiniPress, 128, [1012, 1014, 1016, 1018]);
rightAxis(yMiniPress, 251, [1012, 1014, 1016, 1018]);

const boxMiniWind = { x0: M.x0, x1: M.x1, y0: 315, y1: 392 };
const yMiniWind = d3.scaleLinear().domain([0, 20]).range([392, 315]);
const yMiniKmh = d3.scaleLinear().domain([0, 72]).range([392, 315]);
columns(xMini, yMiniWind, hoursMini, miniWind, 0, windColor(5.55));
grid(xMini, miniTicks, yMiniWind, [5, 10, 15], boxMiniWind);
steps(xMini, yMiniWind, hoursMini.slice(0, -1), miniGust, '#ff0000', 1);
line(xMini, yMiniWind, hoursMini, miniWind, '#0000a0', 2);
layers.marks
    .append('rect')
    .attr('x', 136.5)
    .attr('y', 315)
    .attr('width', 3)
    .attr('height', 3)
    .attr('fill', '#f00000');
leftAxis(yMiniWind, 128, [0, 5, 10, 15, 20]);
rightAxis(yMiniKmh, 252, [0, 18, 36, 54, 72]);

const boxMiniDir = { x0: M.x0, x1: M.x1, y0: 398.5, y1: 430 };
grid(xMini, miniTicks, d3.scaleLinear(), [], boxMiniDir);
arrows(xMini, hoursMini, miniDir, 414, 7.5);

const boxMiniBase = { x0: M.x0, x1: M.x1, y0: 436, y1: 514 };
const yMiniBase = d3.scaleLinear().domain(cloudIdx).range([514, 495, 475, 456, 436]);
const yMiniVis = d3.scaleLinear().domain(visIdx).range([514, 495, 475, 456, 436]);
backdrop(boxMiniBase, 436, ICE);
grid(xMini, miniTicks, yMiniBase, [0.5, 2, 7], boxMiniBase);
[[miniBase01, '#ffffff'], [miniBase25, '#c8c8c8'], [miniBase45, '#909090'], [miniBase65, '#505050'], [miniBase79, '#000000']].forEach(([v, c]) => {
    dots(xMini, yMiniBase, hoursMini, v, c, 3);
});
dots(xMini, yMiniBase, hoursMini, miniTop, '#a52a2a', 3);
line(xMini, yMiniVis, hoursMini, miniVis, ORANGE, 1.8);
leftAxis(yMiniBase, 128, cloudIdx, d3.format('.1f'));
rightAxis(yMiniVis, 253, visIdx, ORANGE);

const boxMiniSky = { x0: M.x0, x1: M.x1, y0: 523, y1: 601 };
const yMiniSky = d3.scaleLinear().domain([0, 8]).range([601, 523]);
const yMiniFog = d3.scaleLinear().domain([0, 1]).range([601, 523]);
backdrop(boxMiniSky, 523, ICE);
const miniZero = hoursMini.map(() => 0);
band(xMini, yMiniSky, hoursMini, miniHigh, miniZero, '#ffffff', layers.solid);
band(xMini, yMiniSky, hoursMini, miniMid, miniZero, '#959595', layers.solid);
band(xMini, yMiniSky, hoursMini, miniLow, miniZero, '#505050', layers.solid);
band(xMini, yMiniSky, hoursMini, miniVeryLow, miniZero, '#333333', layers.solid);
bars(xMini, yMiniFog, miniFogHours, miniFog, '#ffb000', 2.6);
grid(xMini, miniTicks, yMiniSky, [2, 4, 6], boxMiniSky);
line(xMini, yMiniSky, hoursMini, miniMid, '#a8a8a8', 1);
line(xMini, yMiniSky, hoursMini, miniHigh, '#ffffff', 1);
leftAxis(yMiniSky, 128, okta);
rightAxis(yMiniFog, 251, [0, 0.25, 0.5, 0.75, 1], ORANGE);

// -------- time labels --------
timeAxis(xMain, 55, sixHourTicks, cetLabels);
timeAxis(xMain, 617, sixHourTicks, utcLabels);
timeAxis(xMini, 53, [18, 24, 30], ['20', '02', '08'], 12);
timeAxis(xMini, 615, [18, 24, 30], ['18', '00', '06'], 12);

text('CET', 306, 50, '#000', { size: 13 });
text('CET', 770, 50, '#000', { size: 13 });
text('UTC', 306, 612, '#000', { size: 13 });
text('UTC', 770, 612, '#000', { size: 13 });
text('sob, 13.12', 348, 37, '#000');
text('nie, 14.12', 518, 37, '#000');
text('pon, 15.12', 685, 37, '#000');
text('13.12', 378, 626, '#000', { size: 13, anchor: 'middle' });
text('14.12', 532, 626, '#000', { size: 13, anchor: 'middle' });
text('15.12', 710, 626, '#000', { size: 13, anchor: 'middle' });

// -------- header and footer --------
text('wschód słońca: 07:44 CET', 282, 8, NAVY, { spacing: 0.15 });
text('zachód słońca: 15:16 CET', 283, 21, NAVY, { spacing: 0.15 });
text('20°54\'43"E, 53°32\'29"N', 551, 8, NAVY, { anchor: 'middle' });
text('(x=248, y=368)', 551, 21, NAVY, { anchor: 'middle' });
text('wysokość (min, środek, max)', 738, 8, NAVY, { anchor: 'middle' });
text('141 - 155 - 180 m', 738, 21, NAVY, { anchor: 'middle' });
text('meteo@icm.edu.pl', 355, 648, NAVY, { size: 13, anchor: 'middle' });
text('© 2007-2025 ICM, Uniwersytet Warszawski', 553, 648, NAVY, { size: 13 });
text('* powyżej poziomu morza', 5, 648, '#000', { size: 8.5, weight: 'bold' });

// -------- side titles --------
const sideTitles = [
    ['temperatura', 289, 96], ['(°C)', 303, 98],
    ['opad', 289, 186], ['(mm/h, kg/m³/h)', 303, 186],
    ['ciśnienie', 289, 272], ['(hPa)', 303, 268],
    ['wiatr', 289, 361], ['(m/s)', 303, 362],
    ['pion. rozciągł. chm.', 289, 475], ['(km)', 303, 470],
    ['zachmurzenie', 289, 572], ['(oktanty)', 303, 562],
    ['(°C)', 798, 97], ['temperatura', 812, 96],
    ['(%)', 798, 184], ['wilgotność wzgl.', 812, 185],
    ['(mm Hg)', 798, 273], ['ciśnienie', 812, 273],
    ['(km/h)', 798, 359], ['wiatr', 812, 361],
    ['(km)', 798, 470], ['widzialność', 812, 475],
    ['(frakcja)', 798, 562], ['mgła', 812, 563]
];
sideTitles.forEach(([str, x, y]) => rotated(str, x, y, NAVY));
[290, 798].forEach((cx) => {
    const mid = cx + 8.5;
    text('W', cx, 416, NAVY, { size: 13, anchor: 'middle' });
    text('N', mid, 408, NAVY, { size: 13, anchor: 'middle' });
    layers.text.append('text').attr('transform', `translate(${mid + 7},417) rotate(90)`).attr('dy', '.35em').attr('text-anchor', 'middle').attr('font-size', 13).attr('fill', NAVY).text('E');
    layers.text.append('text').attr('transform', `translate(${mid},424) rotate(90)`).attr('dy', '.35em').attr('text-anchor', 'middle').attr('font-size', 13).attr('fill', NAVY).text('S');
});

// -------- legend with leader lines --------
const legendTexts = [
    ['Czas lokalny', 6, 15, '#000'], ['(CET/CEST)', 6, 26, '#000'],
    ['Temperatura gruntu', 6, 42, '#a52a2a'], ['max/min', 28, 52.5, '#a52a2a'],
    ['Temperatura:', 6, 64, '#000'], ['punkt środkowy', 13, 76, '#ff0000'],
    ['max/min', 28, 86, '#ffdcd2'], ['odczuwana', 10, 98, '#0000f0'],
    ['max/min', 28, 108, '#a8dcf8'], ['Temp. punktu rosy', 6, 120, '#6a5acd'],
    ['Opad powyżej skali', 6, 137, '#ff0000'], ['Wilgotność względna', 6, 151, HUMID],
    ['Wystąpienie burzy', 6, 165, '#000'], ['Deszcz: max', 6, 179.5, '#00a000'],
    ['średni', 48, 190, '#00a000'], ['Śnieg:', 6, 201, '#2040c8'],
    ['max', 48, 201, '#2040c8'], ['średni', 48, 212, '#2040c8'],
    ['Wystąpienie opadu', 6, 224, '#ff0000'], ['konwekcyjnego', 6, 237, '#ff0000'],
    ['Ciśnienie', 5, 263, '#000'], ['zredukowane', 5, 276, '#000'], ['do poziomu morza', 5, 289, '#000'],
    ['Wiatr na 10m:', 5, 318, '#000'], ['poryw powyżej skali', 10, 334, '#ff0000'],
    ['max porywy wiatru', 10, 348, '#ff0000'], ['prędkość wiatru', 10, 368, '#0000a0'],
    ['w środku obszaru', 10, 381, '#0000a0'], ['kierunek wiatru', 10, 409, '#0000a0'],
    ['Wierzchołek chmur', 6, 429, '#a52a2a'], ['Podstawa chmur*', 6, 444, '#000'], ['o pokryciu', 6, 456, '#000'],
    ['> 7.9 okt.', 11, 468, '#000'], ['> 6.5 okt.', 11, 479, '#505050'], ['> 4.5 okt.', 11, 490, '#909090'],
    ['> 2.5 okt.', 11, 500, '#d8d8d0'], ['> 0.1 okt.', 11, 511, '#ffffff'],
    ['Widzialność', 6, 526, ORANGE], ['Chmury:', 6, 543, '#000'], ['wysokie', 11, 556, '#ffffff'],
    ['średnie', 10, 569, '#909090'], ['niskie', 10, 581, '#404040'], ['bardzo niskie', 10, 593, '#303030'],
    ['Mgła', 6, 606, '#ffb000']
];
const legendLines = [
    ['#000', [[66, 16], [133, 16], [157, 47]]],
    ['#a52a2a', [[102, 43], [120, 43], [155, 96]]],
    ['#ff0000', [[92, 76], [115, 76]]],
    ['#ff0000', [[130, 76], [157, 105]]],
    ['#0000f0', [[70, 99], [135, 99]]],
    ['#6a5acd', [[94, 120], [115, 120], [135, 113]]],
    ['#ff0000', [[103, 137], [135, 137], [146, 147]]],
    [HUMID, [[106, 151], [111, 151]]],
    [HUMID, [[130, 151], [143, 165]]],
    ['#000', [[104, 165], [113, 165]]],
    ['#000', [[130, 165], [138, 172]]],
    ['#00a000', [[71, 178], [140, 178]]],
    ['#00a000', [[80, 190], [140, 190]]],
    ['#2040c8', [[70, 202], [112, 202]]],
    ['#2040c8', [[130, 202], [160, 172]]],
    ['#2040c8', [[80, 212], [130, 212], [160, 180]]],
    ['#ff0000', [[98, 224], [135, 224], [147, 218]]],
    ['#000', [[52, 264], [130, 264], [135, 263]]],
    ['#ff0000', [[112, 334], [118, 334]]],
    ['#ff0000', [[128, 334], [138, 316]]],
    ['#ff0000', [[107, 348], [128, 348], [145, 340]]],
    ['#0000a0', [[92, 367], [135, 367]]],
    ['#0000a0', [[86, 409], [135, 409]]],
    ['#a52a2a', [[100, 431], [135, 431], [185, 448]]],
    ['#000', [[57, 468], [135, 468], [190, 455]]],
    ['#505050', [[57, 480], [135, 480], [143, 481]]],
    ['#909090', [[57, 490], [130, 490], [143, 505]]],
    ['#d8d8d0', [[57, 500], [132, 500], [138, 507]]],
    [ORANGE, [[66, 527], [127, 527], [172, 463]]],
    ['#909090', [[50, 571], [193, 571]]],
    ['#404040', [[38, 582], [122, 582]]],
    ['#404040', [[133, 582], [140, 582]]],
    ['#303030', [[74, 594], [150, 594]]],
    ['#ffb000', [[30, 606], [215, 606], [219, 596]]],
    ['#000', [[140, 623], [148, 623], [157, 609]]]
];
const lineGen = d3.line();
legendLines.forEach(([color, pts]) => {
    layers.text
        .append('path')
        .attr('d', lineGen(pts))
        .attr('fill', 'none')
        .attr('stroke', color)
        .attr('stroke-width', 1);
});
[[[55, 512], [135, 512]], [[52, 557], [185, 557]]].forEach((pts) => {
    layers.text.append('path').attr('d', lineGen(pts)).attr('stroke', ICE).attr('stroke-width', 3);
    layers.text.append('path').attr('d', lineGen(pts)).attr('stroke', '#fff').attr('stroke-width', 1);
});
layers.text.append('rect').attr('x', 11).attr('y', 505).attr('width', 44).attr('height', 13).attr('fill', ICE);
layers.text.append('rect').attr('x', 10).attr('y', 551).attr('width', 41).attr('height', 12).attr('fill', ICE);
legendTexts.forEach(([str, x, y, color]) => {
    text(str, x, y, color, { size: 11, spacing: 0.1 });
});
text('Czas uniwersalny (UTC)', 6, 622, '#000', { size: 12 });
</script>
</body>
</html>
